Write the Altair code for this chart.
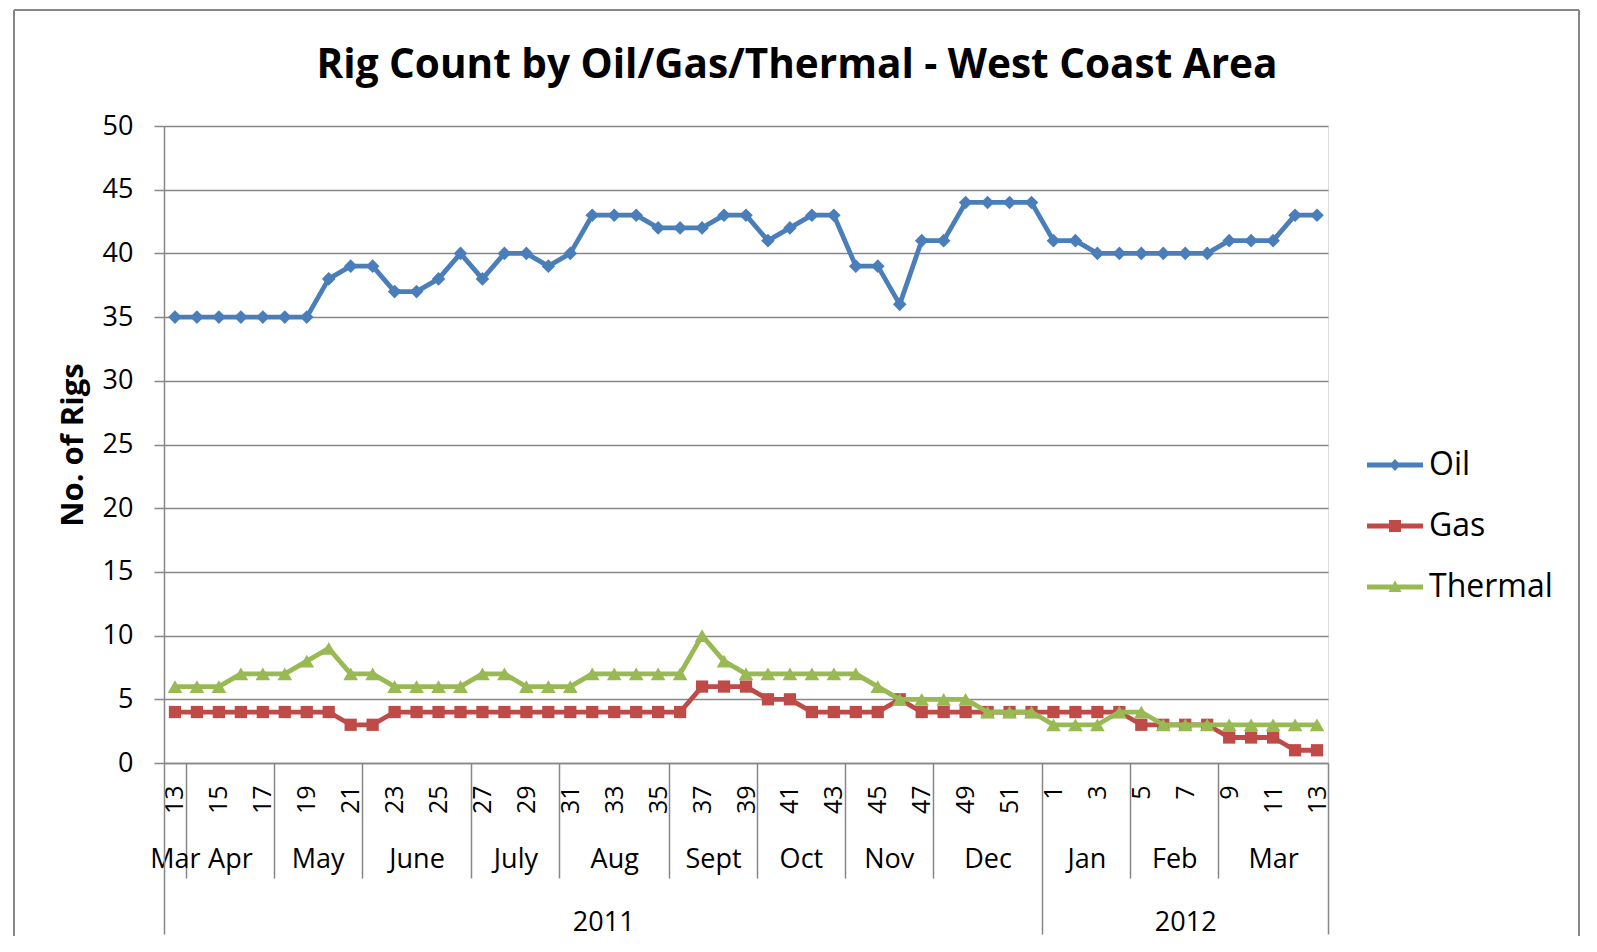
import altair as alt
import pandas as pd

# ---------------- data ----------------
weeks = ["13", "14", "15", "16", "17", "18", "19", "20", "21", "22", "23", "24", "25", "26",
         "27", "28", "29", "30", "31", "32", "33", "34", "35", "36", "37", "38", "39", "40",
         "41", "42", "43", "44", "45", "46", "47", "48", "49", "50", "51", "52",
         "1", "2", "3", "4", "5", "6", "7", "8", "9", "10", "11", "12", "13"]

oil = [35, 35, 35, 35, 35, 35, 35, 38, 39, 39, 37, 37, 38, 40, 38, 40, 40, 39, 40, 43,
       43, 43, 42, 42, 42, 43, 43, 41, 42, 43, 43, 39, 39, 36, 41, 41, 44, 44, 44, 44,
       41, 41, 40, 40, 40, 40, 40, 40, 41, 41, 41, 43, 43]
gas = [4, 4, 4, 4, 4, 4, 4, 4, 3, 3, 4, 4, 4, 4, 4, 4, 4, 4, 4, 4,
       4, 4, 4, 4, 6, 6, 6, 5, 5, 4, 4, 4, 4, 5, 4, 4, 4, 4, 4, 4,
       4, 4, 4, 4, 3, 3, 3, 3, 2, 2, 2, 1, 1]
thermal = [6, 6, 6, 7, 7, 7, 8, 9, 7, 7, 6, 6, 6, 6, 7, 7, 6, 6, 6, 7,
           7, 7, 7, 7, 10, 8, 7, 7, 7, 7, 7, 7, 6, 5, 5, 5, 5, 4, 4, 4,
           3, 3, 3, 4, 4, 3, 3, 3, 3, 3, 3, 3, 3]

series_names = ["Oil", "Gas", "Thermal"]
month_names = ["Mar", "Apr", "May", "June", "July", "Aug", "Sept", "Oct", "Nov", "Dec",
               "Jan", "Feb", "Mar"]
month_weeks = [1, 4, 4, 5, 4, 5, 4, 4, 4, 5, 4, 4, 5]
year_names = ["2011", "2012"]
year_weeks = [40, 13]

# ---------------- styling ----------------
FONT = "Open Sans"
GRAY = "#878787"
colors = ["#4A7EBB", "#BE4B48", "#98B954"]
shapes = ["diamond", "square", "triangle-up"]
sizes = [185, 150, 215]
legend_paths = [
    "M-28,-2.4H28V2.4H-28Z M0,-6L5.5,0L0,6L-5.5,0Z",
    "M-28,-2.4H28V2.4H-28Z M-6,-6H6V6H-6Z",
    "M-28,-2.4H28V2.4H-28Z M0,-6.5L6.5,5L-6.5,5Z",
]

n = len(weeks)
rows = []
for s, vals in zip(series_names, [oil, gas, thermal]):
    for i, v in enumerate(vals):
        rows.append({"idx": i, "week": weeks[i], "series": s, "rigs": v})
df = pd.DataFrame(rows)

# month / year group centers and boundaries (category index units)
month_centers, month_bounds = [], []
start = 0
for c in month_weeks:
    month_centers.append(start + (c - 1) / 2)
    start += c
    month_bounds.append(start - 0.5)
year_centers, year_bounds = [], [-0.5]
start = 0
for c in year_weeks:
    year_centers.append(start + (c - 1) / 2)
    start += c
    year_bounds.append(start - 0.5)
month_seps = [b for b in month_bounds if b not in year_bounds]


def js_list(items, quote=True):
    if quote:
        return "[" + ",".join("'" + str(t) + "'" for t in items) + "]"
    return "[" + ",".join(repr(float(t)) for t in items) + "]"


xscale = alt.Scale(domain=[-0.5, n - 0.5], nice=False, zero=False)
yscale = alt.Scale(domain=[0, 50], nice=False, zero=True)

W, H = 1164, 637

common_x = dict(orient="bottom", title=None, grid=False, labelOverlap=False, labelFlush=False,
                labelFont=FONT, labelColor="black")

week_axis = alt.Axis(values=list(range(0, n, 2)),
                     labelExpr=js_list(weeks) + "[datum.value]",
                     labelAngle=270, labelAlign="right", labelBaseline="middle",
                     labelPadding=22, labelFontSize=25, ticks=False,
                     domain=True, domainColor=GRAY, domainWidth=1.5, **common_x)
month_sep_axis = alt.Axis(values=month_seps, labels=False, ticks=True, tickSize=115,
                          tickColor=GRAY, tickWidth=1.5, domain=False, **common_x)
month_lbl_axis = alt.Axis(values=month_centers,
                          labelExpr=js_list(month_names) + "[indexof(" + js_list(month_centers, False) + ", datum.value)]",
                          labelAngle=0, labelAlign="center", labelBaseline="middle",
                          labelPadding=96, labelFontSize=27, ticks=False, domain=False, **common_x)
year_lbl_axis = alt.Axis(values=year_centers,
                         labelExpr=js_list(year_names) + "[indexof(" + js_list(year_centers, False) + ", datum.value)]",
                         labelAngle=0, labelAlign="center", labelBaseline="middle",
                         labelPadding=159, labelFontSize=27, ticks=False, domain=False, **common_x)
year_sep_axis = alt.Axis(values=year_bounds, labels=False, ticks=True, tickSize=171,
                         tickColor=GRAY, tickWidth=1.5, domain=False, **common_x)

y_axis = alt.Axis(values=list(range(0, 51, 5)), grid=True, gridColor=GRAY, gridWidth=1.5,
                  domainColor=GRAY, domainWidth=1.5, tickColor=GRAY, tickWidth=1.5, tickSize=10,
                  labelFont=FONT, labelFontSize=27, labelColor="black", labelPadding=21,
                  labelFlush=False, labelOverlap=False, orient="left",
                  title="No. of Rigs", titleFont=FONT, titleFontSize=31, titleFontWeight="bold",
                  titleColor="black", titleX=-91, titleY=H / 2, titleAngle=270,
                  titleAlign="center", titleBaseline="middle")


def ych():
    return alt.Y("rigs:Q", scale=yscale, axis=y_axis)


x_axes = [week_axis, month_sep_axis, month_lbl_axis]
layers = []
for i, s in enumerate(series_names):
    layers.append(
        alt.Chart(df).transform_filter(alt.datum.series == s).mark_line(
            color=colors[i], strokeWidth=4.8, strokeJoin="round", strokeCap="round",
            point=alt.OverlayMarkDef(shape=shapes[i], size=sizes[i], filled=True,
                                     color=colors[i], opacity=1),
        ).encode(
            x=alt.X("idx:Q", scale=xscale, axis=x_axes[i]),
            y=ych(),
        )
    )

leg = dict(orient="none", legendX=1215, legendY=323, labelFont=FONT, labelFontSize=32,
           labelColor="black", labelOffset=18, rowPadding=29, symbolSize=4, padding=0,
           symbolStrokeWidth=0, symbolOpacity=1, title=None)

legend_layer = alt.Chart(df).transform_filter("false").mark_point(filled=True, size=4, opacity=1).encode(
    x=alt.X("idx:Q", scale=xscale, axis=year_lbl_axis),
    y=ych(),
    color=alt.Color("series:N", scale=alt.Scale(domain=series_names, range=colors),
                    legend=alt.Legend(**leg), title=None),
    shape=alt.Shape("series:N", scale=alt.Scale(domain=series_names, range=legend_paths),
                    legend=alt.Legend(**leg), title=None),
)

yearsep_layer = alt.Chart(df).transform_filter("false").mark_point(opacity=0).encode(
    x=alt.X("idx:Q", scale=xscale, axis=year_sep_axis),
    y=ych(),
)

frame_df = pd.DataFrame({"k": [0]})
frame_top = alt.Chart(frame_df).mark_rule(color=GRAY, strokeWidth=2).encode(
    x=alt.value(-150), x2=alt.value(1415), y=alt.value(-116))
frame_left = alt.Chart(frame_df).mark_rule(color=GRAY, strokeWidth=2).encode(
    x=alt.value(-150), y=alt.value(-116), y2=alt.value(810))
frame_right = alt.Chart(frame_df).mark_rule(color=GRAY, strokeWidth=2).encode(
    x=alt.value(1415), y=alt.value(-116), y2=alt.value(810))

chart = alt.layer(
    *layers, legend_layer, yearsep_layer, frame_top, frame_left, frame_right
).resolve_axis(x="independent").properties(
    width=W, height=H,
    padding={"left": 5, "top": 1, "right": 3, "bottom": 2},
    title=alt.TitleParams("Rig Count by Oil/Gas/Thermal - West Coast Area", font=FONT,
                          fontSize=40.5, fontWeight="bold", color="black", anchor="middle",
                          frame="group", dx=51, offset=-109, baseline="alphabetic"),
).configure_view(stroke=None).configure(font=FONT, background="white")

chart.save("out.html", embed_options={"renderer": "svg", "actions": False})
